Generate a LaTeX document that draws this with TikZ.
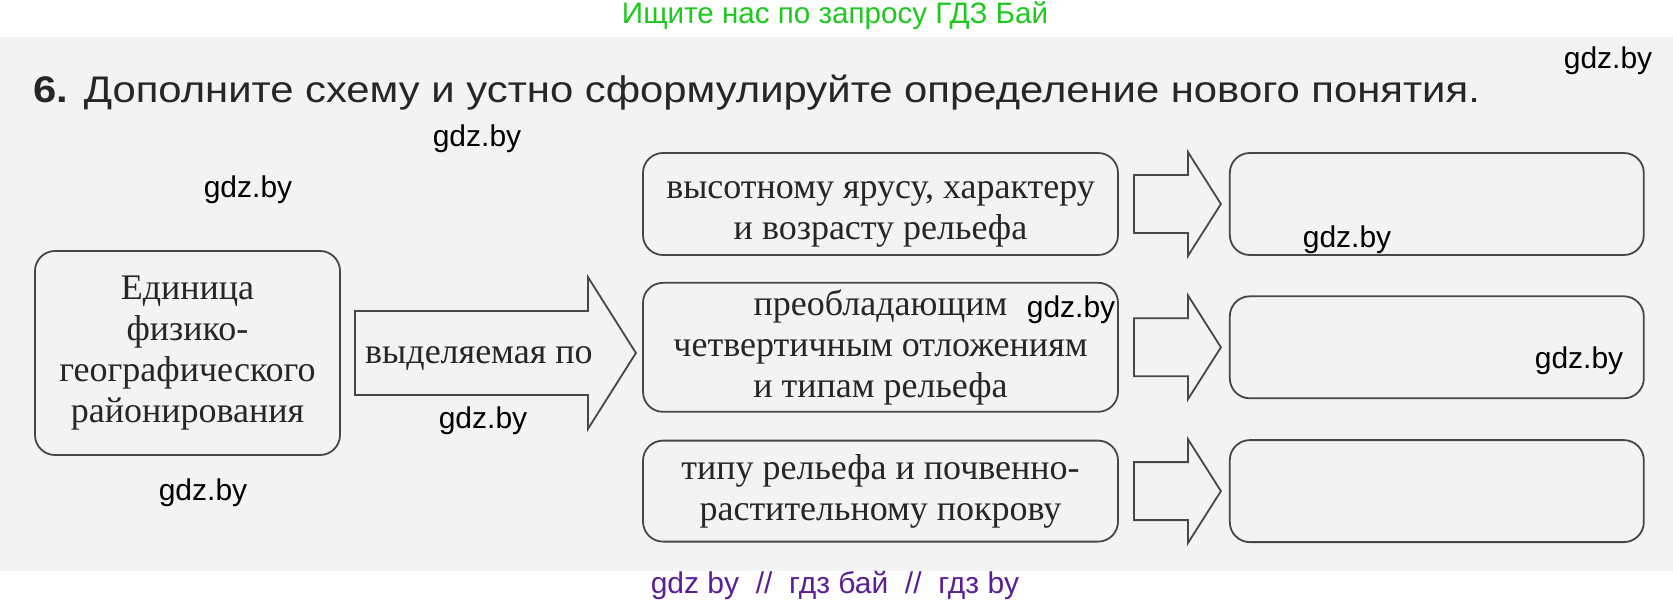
\documentclass[tikz,border=0pt]{standalone}
\usepackage{fontspec}
\setmainfont{Liberation Serif}
\setsansfont{Liberation Sans}
\usetikzlibrary{positioning,calc}
\definecolor{ink}{HTML}{262626}
\definecolor{rim}{HTML}{474747}
\definecolor{paper}{HTML}{F3F3F3}
\definecolor{adgreen}{HTML}{1EC81E}
\definecolor{adpurple}{HTML}{5A1E96}

\begin{document}
\begin{tikzpicture}[x=0.5pt, y=-0.5pt,
    box/.style={draw=rim, line width=0.9pt, rounded corners=10pt, fill=paper, align=center,
        inner sep=0pt, text=ink, font=\fontsize{18}{20.5}\selectfont},
    midbox/.style={box, minimum width=237.5pt},
    ansbox/.style={box, minimum width=207pt, minimum height=51pt},
    hollow/.style={draw=rim, fill=paper, line width=0.9pt, line join=miter},
    wm/.style={font=\sffamily\fontsize{15}{15}\selectfont, text=black}]
        \useasboundingbox (0,0) rectangle (1673,604);
        \fill[paper] (0,37) rectangle (1673,571);
        \node[font=\sffamily\fontsize{14.8}{14.8}\selectfont, text=adgreen] (ad) at (835,16) {Ищите нас по запросу ГДЗ Бай};
        \node[font=\sffamily\fontsize{15}{15}\selectfont, text=adpurple] (site) at (835,585) {gdz by~~//~~гдз бай~~//~~гдз by};
        \node[anchor=base west, inner sep=0pt, font=\sffamily\fontsize{18.5}{18.5}\selectfont, text=ink] (task) at (33,103)
            {\scalebox{1.13}[1]{\textbf{6.} Дополните схему и устно сформулируйте определение нового понятия.}};
        \node[box, minimum width=152.5pt, minimum height=102pt] (unit) at (187.5,353) {Единица\\физико-\\географического\\районирования};
        \node[midbox, minimum height=51pt] (tier) at (880.5,204) {\rule{0pt}{19pt}высотному ярусу, характеру\\и возрасту рельефа};
        \node[midbox, minimum height=64.5pt, below=13pt of tier] (deposits) {преобладающим\\четвертичным отложениям\\и типам рельефа};
        \node[midbox, minimum height=50.5pt, below=13.5pt of deposits] (soil) {типу рельефа и почвенно-\\растительному покрову};
        \node[ansbox, right=55pt of tier] (tierans) {};
        \node[ansbox, right=55pt of deposits] (depans) {};
        \node[ansbox, right=55pt of soil] (soilans) {};
        \draw[hollow] ($(unit.east)+(14,-42)$) -- ++(233,0) -- ++(0,-34) -- ($(unit.east)+(295,0)$)
            -- ++(-48,76) -- ++(0,-34) -- ++(-233,0) -- cycle;
        \node[text=ink, font=\fontsize{18}{20.5}\selectfont] (by) at ($(unit.east)+(138,5)$) {выделяемая по};
        \foreach \a in {tier, deposits, soil}
            \draw[hollow] ($(\a.east)+(15,-29)$) -- ++(54,0) -- ++(0,-23) -- ($(\a.east)+(102,0)$)
                -- ++(-33,52) -- ++(0,-23) -- ++(-54,0) -- cycle;
        \node[wm] (wm1) at (1608,61) {gdz.by};
        \node[wm] (wm2) at (477,139) {gdz.by};
        \node[wm] (wm3) at (248,190) {gdz.by};
        \node[wm] (wm4) at (1347,240) {gdz.by};
        \node[wm] (wm5) at (1071,310) {gdz.by};
        \node[wm] (wm6) at (1579,361) {gdz.by};
        \node[wm] (wm7) at (483,421) {gdz.by};
        \node[wm] (wm8) at (203,493) {gdz.by};
\end{tikzpicture}
\end{document}
